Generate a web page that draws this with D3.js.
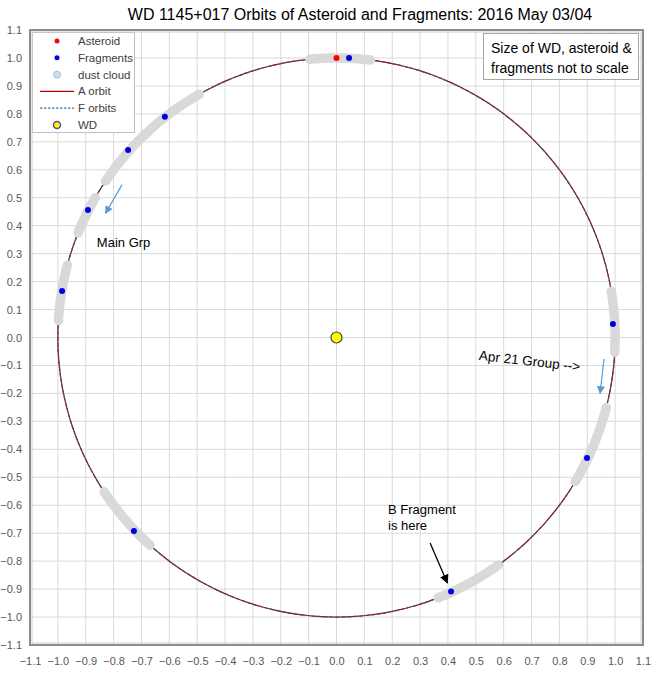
<!DOCTYPE html>
<html><head><meta charset="utf-8">
<script src="https://cdn.jsdelivr.net/npm/d3@7"></script>
<style>body{margin:0;background:#fff}svg{display:block}text{font-family:"Liberation Sans",Arial,sans-serif}</style>
</head><body><div id="c"></div>
<script>
// ---- data ----
const titleText = "WD 1145+017 Orbits of Asteroid and Fragments: 2016 May 03/04";
const tickValues = [-1.1,-1.0,-0.9,-0.8,-0.7,-0.6,-0.5,-0.4,-0.3,-0.2,-0.1,0.0,0.1,0.2,0.3,0.4,0.5,0.6,0.7,0.8,0.9,1.0,1.1];
const asteroid = [{x:0.0, y:1.0}];
const fragmentsX = [0.045, -0.616, -0.748, -0.892, -0.985, 0.992, 0.899, 0.411, -0.727];
const fragmentsY = [1.0, 0.79, 0.671, 0.456, 0.166, 0.048, -0.431, -0.909, -0.692];
const wd = [{x:0, y:0}];
const orbitRadius = 1.0;
// dust cloud arcs: start/end angle in degrees (CCW from +x)
const dustStart = [83, 119.5, 133.5, 150, 165, -3, -31, -68.6, 213.5];
const dustEnd   = [95.5, 133.5, 146, 158, 176.5, 9.5, -14.5, -54.5, 228];
const arrowsFrom = [[-0.77, 0.546],[0.96,-0.077],[0.336,-0.735]];
const arrowsTo   = [[-0.829, 0.444],[0.946,-0.2],[0.398,-0.878]];
const arrowColors = ["#5b9bd5","#5b9bd5","#000000"];
const legendLabels = ["Asteroid","Fragments","dust cloud","A orbit","F orbits","WD"];
const noteLines = ["Size of WD, asteroid &","fragments not to scale"];

const W=656,H=675;
const svg=d3.select("#c").append("svg").attr("width",W).attr("height",H);
const x=d3.scaleLinear().domain([-1.1,1.1]).range([30,643]);
const y=d3.scaleLinear().domain([-1.1,1.1]).range([645,30]);

// title
svg.append("text").attr("x",360).attr("y",20).attr("text-anchor","middle")
  .style("font-size","16px").attr("fill","#000").text(titleText);

// grid
const g=svg.append("g");
g.selectAll(".vx").data(tickValues).join("line")
  .attr("x1",d=>x(d)).attr("x2",d=>x(d)).attr("y1",y(1.1)).attr("y2",y(-1.1))
  .attr("stroke","#d9d9d9").attr("stroke-width",1);
g.selectAll(".hy").data(tickValues).join("line")
  .attr("y1",d=>y(d)).attr("y2",d=>y(d)).attr("x1",x(-1.1)).attr("x2",x(1.1))
  .attr("stroke","#d9d9d9").attr("stroke-width",1);

// axes labels
const xa=d3.axisBottom(x).tickValues(tickValues).tickFormat(d3.format(".1f")).tickSize(0).tickPadding(12);
svg.append("g").attr("transform",`translate(0,${y(-1.1)})`).call(xa)
  .call(s=>s.select(".domain").remove())
  .call(s=>s.selectAll("text").style("font-size","11px").attr("fill","#595959"));
const ya=d3.axisLeft(y).tickValues(tickValues).tickFormat(d3.format(".1f")).tickSize(0).tickPadding(8);
svg.append("g").attr("transform",`translate(${x(-1.1)},0)`).call(ya)
  .call(s=>s.select(".domain").remove())
  .call(s=>s.selectAll("text").style("font-size","11px").attr("fill","#595959"));

// orbits
const angles=d3.range(0,361,1);
const orbitLine=d3.line().x(a=>x(orbitRadius*Math.cos(a*Math.PI/180))).y(a=>y(orbitRadius*Math.sin(a*Math.PI/180)));
svg.append("path").attr("d",orbitLine(angles)).attr("fill","none").attr("stroke","#c00000").attr("stroke-width",1.2);
svg.append("path").attr("d",orbitLine(angles)).attr("fill","none").attr("stroke","#2f4f8f").attr("stroke-width",1.2).attr("stroke-dasharray","4,2");

// dust clouds (on top of orbit lines)
svg.append("g").selectAll("path").data(dustStart.map((s,i)=>[s,dustEnd[i]])).join("path")
  .attr("d",d=>orbitLine(d3.range(d[0],d[1],0.5).concat([d[1]])))
  .attr("fill","none").attr("stroke","#d9d9d9").attr("stroke-width",9.5).attr("stroke-linecap","round");

// points
svg.append("g").selectAll("circle").data(fragmentsX.map((v,i)=>({x:v,y:fragmentsY[i]}))).join("circle")
  .attr("cx",d=>x(d.x)).attr("cy",d=>y(d.y)).attr("r",3).attr("fill","#0000e0");
svg.append("g").selectAll("circle").data(asteroid).join("circle")
  .attr("cx",d=>x(d.x)).attr("cy",d=>y(d.y)).attr("r",3).attr("fill","#ff0000");
svg.append("g").selectAll("circle").data(wd).join("circle")
  .attr("cx",d=>x(d.x)).attr("cy",d=>y(d.y)).attr("r",5.5).attr("fill","#ffff00").attr("stroke","#404040").attr("stroke-width",1.2);

// arrows
const defs=svg.append("defs");
arrowColors.forEach((c,i)=>{
  defs.append("marker").attr("id","ah"+i).attr("viewBox","0 0 10 10").attr("refX",9).attr("refY",5)
   .attr("markerWidth",9).attr("markerHeight",i==2?9:8).attr("orient","auto").attr("markerUnits","userSpaceOnUse")
   .append("path").attr("d","M0,0 L10,5 L0,10 z").attr("fill",c);
});
arrowsFrom.forEach((f,i)=>{
  svg.append("line").attr("x1",x(f[0])).attr("y1",y(f[1])).attr("x2",x(arrowsTo[i][0])).attr("y2",y(arrowsTo[i][1]))
    .attr("stroke",arrowColors[i]).attr("stroke-width",i==2?1.3:1.2).attr("marker-end",`url(#ah${i})`);
});

// annotations
svg.append("text").attr("x",x(-0.86)).attr("y",y(0.325)).style("font-size","13px").attr("fill","#000").text("Main Grp");
svg.append("text").attr("transform",`translate(${x(0.51)},${y(-0.08)}) rotate(6.5)`).style("font-size","13.5px").attr("fill","#000").text("Apr 21 Group  -->");
svg.append("text").attr("x",x(0.185)).attr("y",y(-0.63)).style("font-size","13px").attr("fill","#000").text("B Fragment");
svg.append("text").attr("x",x(0.185)).attr("y",y(-0.69)).style("font-size","13px").attr("fill","#000").text("is here");

// note box
svg.append("rect").attr("x",483.5).attr("y",33.5).attr("width",155).attr("height",46).attr("fill","#fff").attr("stroke","#a6a6a6");
svg.append("g").selectAll("text").data(noteLines).join("text")
  .attr("x",491).attr("y",(d,i)=>53+i*20).style("font-size","14px").attr("fill","#000").text(d=>d);

// legend
const lg=svg.append("g");
lg.append("rect").attr("x",32.5).attr("y",32.5).attr("width",102).attr("height",100).attr("fill","#fff").attr("stroke","#bfbfbf");
const ly=d=>41+legendLabels.indexOf(d)*16.8;
lg.selectAll("text").data(legendLabels).join("text").attr("x",78).attr("y",d=>ly(d)+4).style("font-size","11.5px").attr("fill","#404040").text(d=>d);
lg.append("circle").attr("cx",57).attr("cy",ly("Asteroid")).attr("r",2.5).attr("fill","#ff0000");
lg.append("circle").attr("cx",57).attr("cy",ly("Fragments")).attr("r",2.5).attr("fill","#0000e0");
lg.append("circle").attr("cx",57).attr("cy",ly("dust cloud")).attr("r",3.5).attr("fill","#d6dce5").attr("stroke","#9dc3e6").attr("stroke-width",1);
lg.append("line").attr("x1",40).attr("x2",74).attr("y1",ly("A orbit")).attr("y2",ly("A orbit")).attr("stroke","#c00000").attr("stroke-width",1.2);
lg.append("line").attr("x1",40).attr("x2",74).attr("y1",ly("F orbits")).attr("y2",ly("F orbits")).attr("stroke","#2e75b6").attr("stroke-width",1.2).attr("stroke-dasharray","2.5,1.5");
lg.append("circle").attr("cx",57).attr("cy",ly("WD")).attr("r",3.5).attr("fill","#ffff00").attr("stroke","#5050b0").attr("stroke-width",1.5);

// plot border
svg.append("rect").attr("x",x(-1.1)).attr("y",y(1.1)).attr("width",x(1.1)-x(-1.1)).attr("height",y(-1.1)-y(1.1))
  .attr("fill","none").attr("stroke","#8c8c8c").attr("stroke-width",2);
svg.append("rect").attr("x",x(-1.1)+2).attr("y",y(1.1)+2).attr("width",x(1.1)-x(-1.1)-4).attr("height",y(-1.1)-y(1.1)-4)
  .attr("fill","none").attr("stroke","#d0d0d0").attr("stroke-width",1);
</script></body></html>
